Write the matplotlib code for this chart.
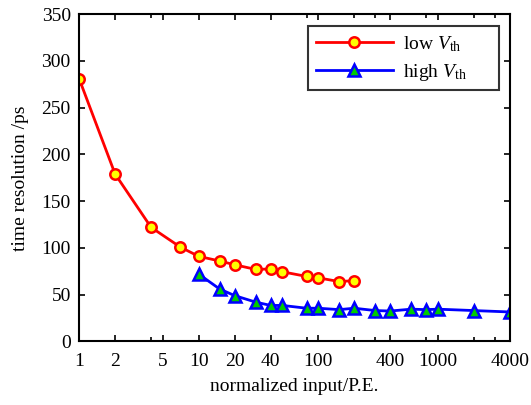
import matplotlib.pyplot as plt
from matplotlib.ticker import FixedLocator, NullFormatter

plt.rcParams['font.family'] = ['Liberation Serif', 'DejaVu Serif']
plt.rcParams['mathtext.fontset'] = 'custom'
plt.rcParams['mathtext.rm'] = 'Liberation Serif'
plt.rcParams['mathtext.it'] = 'Liberation Serif:italic'

# low Vth series
low_x = [1, 2, 4, 7, 10, 15, 20, 30, 40, 50, 80, 100, 150, 200]
low_y = [281, 179, 122, 101, 91, 86, 82, 77, 77.5, 74.5, 69.5, 68, 64, 65]

# high Vth series
high_x = [10, 15, 20, 30, 40, 50, 80, 100, 150, 200, 300, 400, 600, 800, 1000, 2000, 4000]
high_y = [72, 56, 49, 42, 38.5, 38.5, 35.5, 35.5, 34, 35.5, 33, 32.5, 34.5, 34, 34.5, 33, 31.5]

major_ticks = [1, 2, 5, 10, 20, 40, 100, 400, 1000, 4000]
minor_ticks = [4, 80, 200, 300, 800, 2000, 3000]

fig = plt.figure(figsize=(5.31, 4.05), dpi=100)
ax = fig.add_axes([0.149, 0.157, 0.811, 0.808])

ax.plot(low_x, low_y, color='red', lw=2, marker='o', markersize=7.5,
        markerfacecolor='yellow', markeredgecolor='red', markeredgewidth=1.8,
        label=r'low $V_{\rm th}$')
ax.plot(high_x, high_y, color='blue', lw=2, marker='^', markersize=9,
        markerfacecolor='#00cc00', markeredgecolor='blue', markeredgewidth=1.8,
        label=r'high $V_{\rm th}$')

ax.set_xscale('log')
ax.set_xlim(1, 4000)
ax.set_ylim(0, 350)
ax.xaxis.set_major_locator(FixedLocator(major_ticks))
ax.xaxis.set_major_formatter(plt.FixedFormatter([str(t) for t in major_ticks]))
ax.xaxis.set_minor_locator(FixedLocator(minor_ticks))
ax.xaxis.set_minor_formatter(NullFormatter())
ax.set_yticks(range(0, 351, 50))

ax.tick_params(which='both', direction='in', top=True, right=True,
               labelsize=14, width=1.2)
ax.tick_params(which='major', length=4)
ax.tick_params(which='minor', length=3)
ax.tick_params(axis='x', which='both', pad=8)
ax.tick_params(axis='y', which='both', pad=6)
for s in ax.spines.values():
    s.set_linewidth(1.5)

ax.set_xlabel('normalized input/P.E.', fontsize=14, labelpad=6)
ax.set_ylabel('time resolution /ps', fontsize=14, labelpad=9)

leg = ax.legend(loc='upper left', fontsize=14, frameon=True, fancybox=False,
                edgecolor='black', handlelength=4.0, handletextpad=0.5,
                borderpad=0.4, labelspacing=0.4, mode='expand',
                borderaxespad=0, bbox_to_anchor=(0.531, 0.963, 0.445, 0.0))
leg.get_frame().set_linewidth(1.5)

fig.savefig('out.png', dpi=100)
